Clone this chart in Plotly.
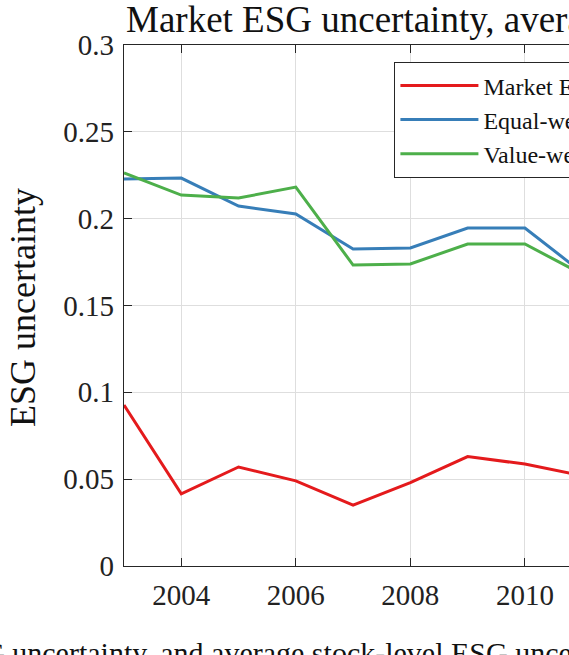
import plotly.graph_objects as go

years = [2003, 2004, 2005, 2006, 2007, 2008, 2009, 2010, 2011]
market_esg = [0.0927, 0.0415, 0.0570, 0.0490, 0.0350, 0.0480, 0.0630, 0.0587, 0.0520]
equal_weighted = [0.2228, 0.2234, 0.2073, 0.2027, 0.1825, 0.1831, 0.1946, 0.1946, 0.1690]
value_weighted = [0.2263, 0.2136, 0.2119, 0.2182, 0.1733, 0.1739, 0.1854, 0.1854, 0.1680]

names = ["Market ESG uncertainty", "Equal-weighted average", "Value-weighted average"]
colors = ["#E41A1C", "#377EB8", "#4DAF4A"]

serif = "Liberation Serif"
axis_col = "#262626"
grid_col = "#dedede"

fig = go.Figure()
for vals, name, col in zip([market_esg, equal_weighted, value_weighted], names, colors):
    fig.add_trace(go.Scatter(x=years, y=vals, name=name, mode="lines",
                             line=dict(color=col, width=3)))

fig.update_layout(
    width=569, height=655,
    margin=dict(l=124, r=0, t=45, b=89, autoexpand=False),
    paper_bgcolor="white", plot_bgcolor="white",
    font=dict(family=serif, color=axis_col),
    showlegend=True,
    legend=dict(x=0.607, y=0.9674, xanchor="left", yanchor="top",
                bgcolor="white", bordercolor=axis_col, borderwidth=1.3,
                itemwidth=78,
                font=dict(family=serif, size=24, color="#111111")),
    xaxis=dict(range=[2003, 2010.77], tick0=2004, dtick=2, automargin=False,
               tickangle=0,
               showline=True, linecolor=axis_col, linewidth=1.3, mirror="ticks",
               ticks="inside", ticklen=8, tickcolor=axis_col, tickwidth=1.2,
               showgrid=True, gridcolor=grid_col, gridwidth=1, zeroline=False,
               ticklabelstandoff=3,
               tickfont=dict(family=serif, size=29, color="#222222")),
    yaxis=dict(range=[0, 0.3], tick0=0, dtick=0.05, automargin=False,
               showline=True, linecolor=axis_col, linewidth=1.3, mirror=False,
               ticks="inside", ticklen=8, tickcolor=axis_col, tickwidth=1.2,
               showgrid=True, gridcolor=grid_col, gridwidth=1, zeroline=False,
               ticklabelstandoff=3,
               tickfont=dict(family=serif, size=29, color="#222222")),
)

fig.add_annotation(text="Market ESG uncertainty, average stock-level ESG uncertainty",
                   xref="paper", yref="paper", x=0.0, y=1.0499,
                   xanchor="left", yanchor="middle", showarrow=False,
                   font=dict(family=serif, size=37, color="#111111"))

fig.add_annotation(text="ESG uncertainty", textangle=-90,
                   xref="paper", yref="paper", x=-0.227, y=0.497,
                   xanchor="center", yanchor="middle", showarrow=False,
                   font=dict(family=serif, size=36, color="#111111"))

fig.add_annotation(text="Market ESG uncertainty, and average stock-level ESG uncertainty",
                   xref="paper", yref="paper", x=-0.611, y=-0.1305,
                   xanchor="left", yanchor="top", showarrow=False,
                   font=dict(family=serif, size=30, color="#111111"))

# drop the default body margin so the figure fills the window exactly
fig.write_html("out.html", config={"displayModeBar": False},
               post_script="document.body.style.margin='0';"
                           "document.body.style.overflow='hidden';")
